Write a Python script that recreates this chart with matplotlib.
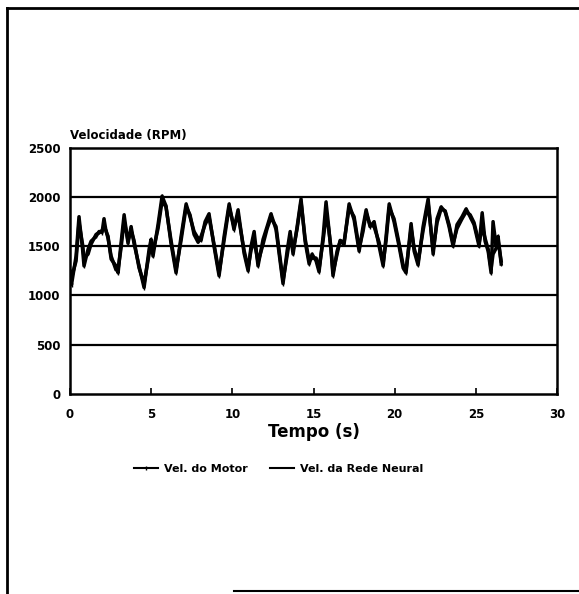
import numpy as np
import matplotlib.pyplot as plt
from matplotlib.lines import Line2D

tempo = [0.00, 0.09, 0.37, 0.55, 0.77, 0.86, 1.11, 1.29, 1.60, 1.79, 1.97, 2.09,
         2.22, 2.34, 2.53, 2.83, 2.96, 3.14, 3.33, 3.57, 3.76, 3.94, 4.25, 4.56,
         4.87, 4.99, 5.11, 5.42, 5.67, 5.91, 6.22, 6.53, 6.84, 7.15, 7.39, 7.64,
         7.89, 8.07, 8.32, 8.56, 8.87, 9.18, 9.49, 9.80, 10.10, 10.35, 10.72, 10.97,
         11.15, 11.34, 11.58, 11.89, 12.14, 12.38, 12.69, 12.94, 13.12, 13.37, 13.56, 13.74,
         13.99, 14.23, 14.48, 14.73, 14.91, 15.16, 15.34, 15.59, 15.77, 15.90, 16.08, 16.20,
         16.45, 16.64, 16.88, 17.19, 17.50, 17.81, 18.05, 18.24, 18.48, 18.73, 19.04, 19.29,
         19.47, 19.66, 19.96, 20.27, 20.52, 20.70, 21.01, 21.20, 21.44, 21.75, 22.06, 22.37,
         22.61, 22.86, 23.11, 23.35, 23.60, 23.84, 24.15, 24.40, 24.65, 24.89, 25.20, 25.39,
         25.57, 25.76, 25.94, 26.06, 26.25, 26.37, 26.56]

vel_motor = [1200, 1110, 1400, 1800, 1470, 1300, 1470, 1550, 1600, 1650, 1640, 1780,
             1650, 1600, 1370, 1300, 1230, 1530, 1820, 1530, 1700, 1530, 1300, 1080,
             1470, 1570, 1400, 1720, 2010, 1910, 1530, 1230, 1600, 1930, 1800, 1650,
             1580, 1560, 1750, 1830, 1500, 1200, 1600, 1930, 1670, 1870, 1430, 1250,
             1500, 1650, 1300, 1570, 1700, 1830, 1670, 1350, 1120, 1450, 1650, 1420,
             1700, 1980, 1550, 1320, 1420, 1350, 1240, 1600, 1950, 1750, 1450, 1200,
             1450, 1550, 1520, 1930, 1770, 1450, 1700, 1870, 1700, 1750, 1500, 1300,
             1600, 1930, 1750, 1500, 1280, 1230, 1730, 1450, 1310, 1700, 1980, 1420,
             1780, 1900, 1850, 1700, 1500, 1720, 1800, 1880, 1800, 1720, 1500, 1840,
             1550, 1450, 1230, 1750, 1500, 1600, 1320]

vel_rede = [1250, 1180, 1350, 1740, 1520, 1380, 1420, 1520, 1620, 1640, 1660, 1680,
            1660, 1580, 1400, 1260, 1270, 1480, 1760, 1560, 1660, 1560, 1280, 1120,
            1420, 1540, 1450, 1680, 1960, 1900, 1560, 1260, 1560, 1900, 1820, 1620,
            1540, 1600, 1720, 1800, 1520, 1230, 1560, 1900, 1700, 1820, 1460, 1280,
            1460, 1560, 1340, 1520, 1680, 1790, 1700, 1380, 1150, 1400, 1600, 1460,
            1680, 1950, 1580, 1350, 1380, 1380, 1270, 1560, 1800, 1720, 1480, 1230,
            1420, 1560, 1540, 1890, 1800, 1480, 1650, 1840, 1720, 1700, 1540, 1330,
            1560, 1890, 1780, 1530, 1310, 1260, 1680, 1480, 1340, 1660, 1940, 1460,
            1740, 1880, 1860, 1720, 1530, 1680, 1780, 1850, 1820, 1740, 1530, 1700,
            1580, 1470, 1270, 1420, 1480, 1560, 1350]

plt.rcParams['font.family'] = ['DejaVu Sans']
plt.rcParams['font.weight'] = 'bold'

fig = plt.figure(figsize=(5.79, 5.94), dpi=100)
ax = fig.add_axes([0.121, 0.337, 0.841, 0.414])

ax.plot(tempo, vel_motor, color='black', lw=2.5, marker='|', markersize=3,
        label='Vel. do Motor')
ax.plot(tempo, vel_rede, color='black', lw=2.5, label='Vel. da Rede Neural')

ax.set_xlim(0, 30)
ax.set_ylim(0, 2500)
ax.set_xticks([0, 5, 10, 15, 20, 25, 30])
ax.set_yticks([0, 500, 1000, 1500, 2000, 2500])
for v in [500, 1000, 1500, 2000]:
    ax.axhline(v, color='black', lw=1.6, zorder=0)
ax.tick_params(axis='x', direction='in', length=4, width=1.2, labelsize=8.5, pad=10)
ax.tick_params(axis='y', length=0, labelsize=8.5, pad=7)
for s in ax.spines.values():
    s.set_linewidth(1.8)

ax.set_xlabel('Tempo (s)', fontsize=12, fontweight='bold', labelpad=2)
ax.text(0, 1.025, 'Velocidade (RPM)', transform=ax.transAxes, fontsize=8.5,
        fontweight='bold', ha='left', va='bottom')

leg = fig.legend(loc='center', bbox_to_anchor=(0.482, 0.21), ncol=2, frameon=False,
                 fontsize=8, handlelength=2.1, columnspacing=2.0, handletextpad=0.6)
for h in leg.legend_handles:
    h.set_linewidth(1.5)

# moldura do papel
fig.add_artist(Line2D([0.012, 0.012], [0.0, 0.987], color='black', lw=2))
fig.add_artist(Line2D([0.012, 1.0], [0.987, 0.987], color='black', lw=2))
fig.add_artist(Line2D([0.405, 1.0], [0.005, 0.005], color='black', lw=1.5))

fig.savefig('out.png', dpi=100)
